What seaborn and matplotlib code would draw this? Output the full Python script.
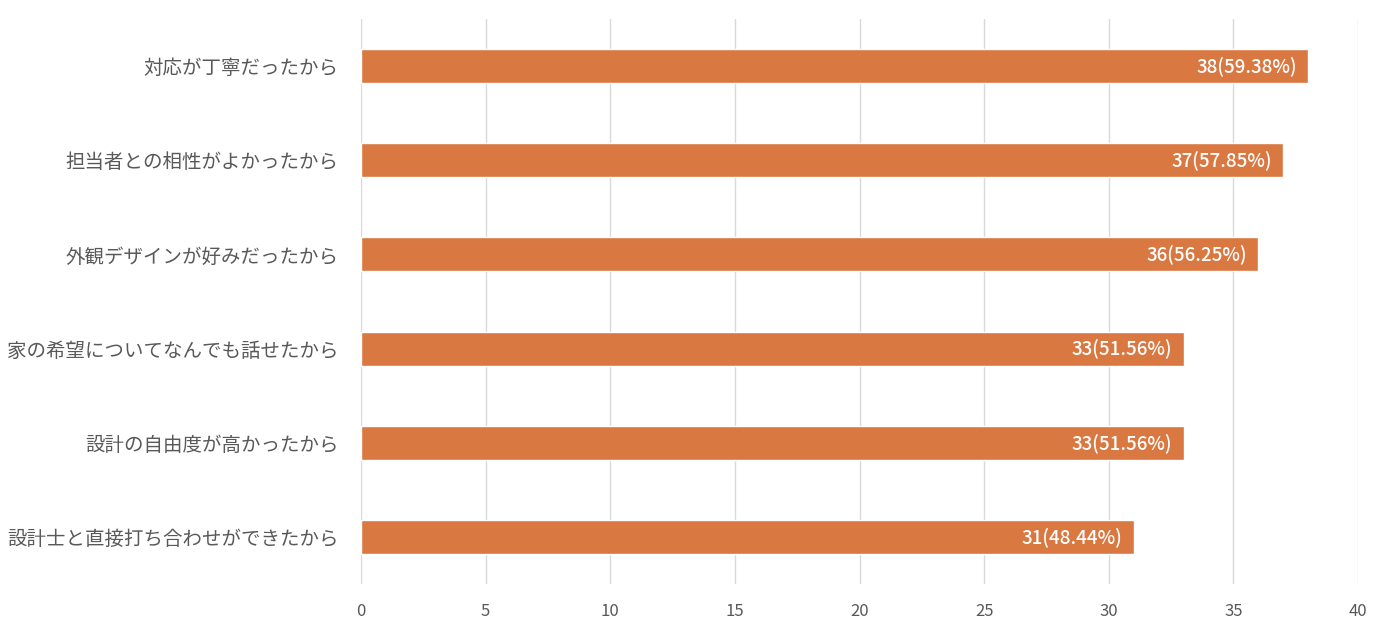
import pandas as pd
import seaborn as sns
import matplotlib.pyplot as plt

# Reasons (top to bottom), counts and shares
REASONS = [
    '対応が丁寧だったから',
    '担当者との相性がよかったから',
    '外観デザインが好みだったから',
    '家の希望についてなんでも話せたから',
    '設計の自由度が高かったから',
    '設計士と直接打ち合わせができたから',
]
COUNTS = [38, 37, 36, 33, 33, 31]
PERCENTS = [59.38, 57.85, 56.25, 51.56, 51.56, 48.44]
X_TICKS = [0, 5, 10, 15, 20, 25, 30, 35, 40]

BAR_COLOR = '#D97841'
TEXT_COLOR = '#595959'
GRID_COLOR = '#D9D9D9'


def main():
    df = pd.DataFrame({'reason': REASONS, 'count': COUNTS, 'pct': PERCENTS})

    sns.set_style('white')
    plt.rcParams['font.family'] = ['Noto Sans CJK JP', 'DejaVu Sans']

    fig = plt.figure(figsize=(13.88, 6.34), dpi=100)
    ax = fig.add_axes([0.2601, 0.0789, 0.7183, 0.8911])

    sns.barplot(data=df, x='count', y='reason', color=BAR_COLOR,
                width=0.36, saturation=1, ax=ax, zorder=3)

    # value labels inside bar ends
    for i, (c, p) in enumerate(zip(df['count'], df['pct'])):
        ax.annotate(f'{c}({p:.2f}%)', xy=(c, i), xytext=(-8, 0),
                    textcoords='offset points', ha='right', va='center',
                    color='white', fontsize=13.5, fontweight='medium', zorder=4)

    ax.set_xlim(0, 40)
    ax.set_ylim(len(REASONS) - 0.5, -0.5)
    ax.set_xticks(X_TICKS)
    ax.set_xlabel('')
    ax.set_ylabel('')
    ax.grid(axis='x', color=GRID_COLOR, linewidth=1, zorder=0)
    ax.grid(axis='y', visible=False)
    for s in ax.spines.values():
        s.set_visible(False)
    ax.tick_params(axis='y', length=0, pad=16, labelsize=14, labelcolor=TEXT_COLOR)
    ax.tick_params(axis='x', length=0, pad=14, labelsize=12, labelcolor=TEXT_COLOR)

    fig.savefig('out.png', dpi=100)
    plt.close(fig)


if __name__ == "__main__":
    main()
